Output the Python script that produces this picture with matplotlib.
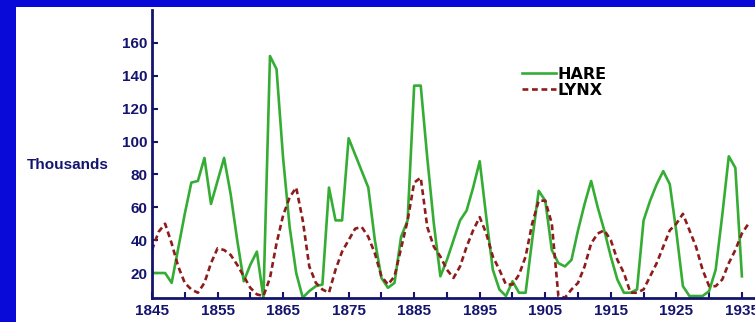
import matplotlib.pyplot as plt
from matplotlib.patches import Rectangle

# snowshoe hare and lynx pelts (thousands)
years = list(range(1845, 1936))
hare = [20, 20, 20, 14, 35, 56, 75, 76, 90, 62,
        76, 90, 68, 40, 15, 25, 33, 5, 152, 144,
        90, 48, 20, 5, 9, 12, 13, 72, 52, 52,
        102, 92, 82, 72, 40, 17, 11, 14, 42, 52,
        134, 134, 90, 50, 18, 28, 40, 52, 58, 72,
        88, 54, 22, 10, 6, 15, 8, 8, 40, 70,
        64, 34, 26, 24, 28, 46, 62, 76, 60, 46,
        30, 16, 8, 8, 10, 52, 64, 74, 82, 74,
        45, 12, 6, 6, 6, 9, 22, 55, 91, 84,
        18]

lynx_years = list(range(1845, 1937))
lynx = [34, 45, 50, 38, 24, 14, 10, 8, 14, 26,
        35, 34, 31, 25, 18, 11, 7, 6, 17, 38,
        55, 66, 72, 52, 24, 14, 10, 8, 22, 33,
        40, 47, 48, 42, 32, 18, 13, 18, 35, 52,
        75, 78, 48, 36, 30, 22, 17, 24, 36, 46,
        54, 44, 30, 22, 13, 13, 19, 30, 50, 64,
        64, 50, 6, 5, 10, 14, 24, 38, 44, 46,
        40, 28, 20, 8, 8, 10, 18, 26, 36, 46,
        50, 56, 46, 36, 22, 12, 12, 16, 26, 34,
        44, 50]

navy = '#14146e'

fig = plt.figure(figsize=(7.55, 3.22), dpi=100, facecolor='#0a0ad8')
fig.patches.append(Rectangle((16 / 755, 0), 1, 1 - 7 / 322, transform=fig.transFigure,
                             facecolor='white', edgecolor='none', zorder=-10))

ax = fig.add_axes([152 / 755, 24 / 322, 603 / 755, 288 / 322])
ax.set_facecolor('none')
ax.set_zorder(5)

ax.plot(years, hare, color='#35ad35', linewidth=1.9, label='HARE')
ax.plot(lynx_years, lynx, color='#8e1c1c', linewidth=1.9, linestyle=(0, (2.2, 1.4)), label='LYNX')

ax.set_xlim(1845, 1937)
ax.set_ylim(4.8, 180)

ax.set_xticks(range(1845, 1937, 10))
ax.set_xticks(range(1850, 1937, 10), minor=True)
ax.set_yticks(range(20, 161, 20))

for s in ['top', 'right']:
    ax.spines[s].set_visible(False)
for s in ['left', 'bottom']:
    ax.spines[s].set_color(navy)
    ax.spines[s].set_linewidth(2)

ax.tick_params(which='both', direction='in', length=4, width=1.5, color=navy,
               labelcolor=navy, labelsize=11)
ax.tick_params(axis='x', pad=4)
ax.tick_params(axis='y', pad=3)
for lab in ax.get_xticklabels() + ax.get_yticklabels():
    lab.set_fontweight('bold')
    lab.set_family('Liberation Sans')

fig.text(27 / 755, 1 - 165 / 322, 'Thousands', color=navy, fontsize=11, fontweight='bold',
         family='Liberation Sans', va='center', ha='left')

leg = ax.legend(loc='upper left', bbox_to_anchor=(514 / 755, 1 - 59 / 322),
                bbox_transform=fig.transFigure, frameon=False, handlelength=2.1,
                handletextpad=0.1, labelspacing=0.05, borderpad=0,
                prop={'family': 'DejaVu Sans', 'weight': 'bold', 'size': 11.5})

fig.savefig('out.png', dpi=100, facecolor=fig.get_facecolor())
